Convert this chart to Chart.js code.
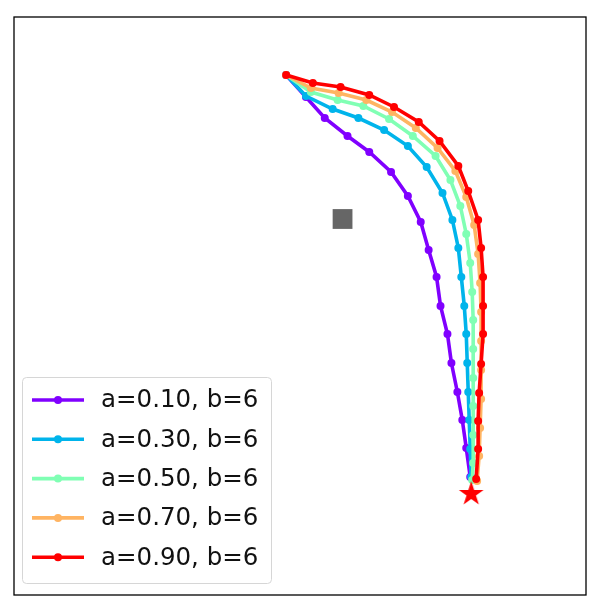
<!DOCTYPE html>
<html>
<head>
<meta charset="utf-8">
<script src="https://cdn.jsdelivr.net/npm/chart.js@4"></script>
<style>
  html, body { margin: 0; padding: 0; background: #fff; }
  #wrap { width: 600px; height: 612px; }
</style>
</head>
<body>
<div id="wrap"><canvas id="c" width="600" height="612"></canvas></div>
<script>
// Values (plot coordinates, y grows downward)
const labels = ["a=0.10, b=6", "a=0.30, b=6", "a=0.50, b=6", "a=0.70, b=6", "a=0.90, b=6"];
const colors = ["#8000ff", "#00b4eb", "#80ffb4", "#ffb462", "#ff0000"];

const pathA010 = [[285,75],[305,97],[324,118],[347,136],[369,152],[391,172],[408,196],[421,222],[429,250],[437,277],[441,306],[448,334],[452,363],[458,392],[463,420],[467,448],[471,477]];
const pathA030 = [[285,75],[305,96],[332,109],[358,118],[384,130],[408,146],[427,167],[443,193],[453,220],[459,248],[462,277],[465,306],[467,334],[468,363],[469,392],[470,420],[471,449],[472,477]];
const pathA050 = [[285,75],[310,92],[337,100],[363,106],[389,119],[413,136],[436,156],[451,180],[461,206],[467,234],[471,263],[473,292],[474,320],[474,349],[474,378],[474,406],[474,435],[474,463],[473,480]];
const pathA070 = [[285,75],[310,88],[338,93],[366,100],[392,112],[416,128],[438,148],[456,171],[467,197],[475,225],[479,254],[481,283],[482,312],[482,341],[482,370],[482,399],[481,428],[480,456],[478,481]];
const pathA090 = [[285,75],[312,83],[340,87],[369,95],[394,107],[419,122],[440,141],[459,166],[469,191],[479,220],[482,248],[484,277],[484,306],[484,334],[482,364],[480,393],[479,421],[479,449],[477,479]];
const obstacle = [[342,219]];
const goal = [[472,494]];

const paths = [pathA010, pathA030, pathA050, pathA070, pathA090];
const toPts = arr => arr.map(p => ({x: p[0], y: p[1]}));

// filled five-point star image for the goal marker
function makeStar(r, color) {
  const cv = document.createElement('canvas');
  const s = Math.ceil(r * 2 + 2);
  cv.width = s; cv.height = s;
  const g = cv.getContext('2d');
  const cx = s / 2, cy = s / 2, ri = r * 0.382;
  g.beginPath();
  for (let i = 0; i < 10; i++) {
    const rr = i % 2 === 0 ? r : ri;
    const ang = -Math.PI / 2 + i * Math.PI / 5;
    const px = cx + rr * Math.cos(ang), py = cy + rr * Math.sin(ang);
    if (i === 0) g.moveTo(px, py); else g.lineTo(px, py);
  }
  g.closePath();
  g.fillStyle = color;
  g.fill();
  return cv;
}
const starImg = makeStar(13, '#ff0000');

const datasets = paths.map((p, i) => ({
  label: labels[i],
  data: toPts(p),
  showLine: true,
  borderColor: colors[i],
  backgroundColor: colors[i],
  borderWidth: 3.6,
  pointRadius: 4,
  pointBorderWidth: 0,
  pointHoverRadius: 4,
  tension: 0,
  order: 10 - i
}));
datasets.push({
  label: 'obstacle', data: toPts(obstacle), showLine: false,
  pointStyle: 'rect', pointRadius: 14, borderWidth: 0, pointBorderWidth: 0,
  backgroundColor: '#666666', borderColor: '#666666', order: 0, legend: false
});
datasets.push({
  label: 'goal', data: toPts(goal), showLine: false,
  pointStyle: starImg, pointRadius: 13, backgroundColor: '#ff0000', borderColor: '#ff0000', order: -1, legend: false
});

const framePlugin = {
  id: 'frame',
  afterDraw(chart) {
    const {ctx, chartArea: a} = chart;
    ctx.save();
    ctx.strokeStyle = '#000';
    ctx.lineWidth = 1.3;
    ctx.strokeRect(a.left, a.top, a.right - a.left, a.bottom - a.top);
    ctx.restore();
  }
};

const legendPlugin = {
  id: 'innerLegend',
  afterDraw(chart) {
    const ctx = chart.ctx;
    const bx = 22.5, by = 377.5, bw = 249, bh = 206, r = 4;
    ctx.save();
    ctx.beginPath();
    ctx.moveTo(bx + r, by);
    ctx.arcTo(bx + bw, by, bx + bw, by + bh, r);
    ctx.arcTo(bx + bw, by + bh, bx, by + bh, r);
    ctx.arcTo(bx, by + bh, bx, by, r);
    ctx.arcTo(bx, by, bx + bw, by, r);
    ctx.closePath();
    ctx.fillStyle = 'rgba(255,255,255,0.8)';
    ctx.fill();
    ctx.strokeStyle = '#d6d6d6';
    ctx.lineWidth = 1;
    ctx.stroke();
    const ds = chart.data.datasets.filter(d => d.legend !== false);
    ds.forEach((d, i) => {
      const y = 400 + i * 39.3;
      ctx.strokeStyle = d.borderColor;
      ctx.lineWidth = 3.6;
      ctx.beginPath();
      ctx.moveTo(32, y); ctx.lineTo(84, y);
      ctx.stroke();
      ctx.fillStyle = d.borderColor;
      ctx.beginPath();
      ctx.arc(58, y, 4, 0, Math.PI * 2);
      ctx.fill();
      ctx.fillStyle = '#111';
      ctx.font = '24.5px "DejaVu Sans"';
      ctx.textBaseline = 'middle';
      ctx.textAlign = 'left';
      ctx.fillText(d.label, 101, y + 1);
    });
    ctx.restore();
  }
};

new Chart(document.getElementById('c'), {
  type: 'scatter',
  data: { datasets },
  options: {
    responsive: false,
    animation: false,
    layout: { padding: { left: 10, right: 12, top: 17, bottom: 17 } },
    plugins: { legend: { display: false }, tooltip: { enabled: false } },
    scales: {
      x: { type: 'linear', min: 10, max: 588, display: false },
      y: { type: 'linear', min: 17, max: 595, reverse: true, display: false }
    }
  },
  plugins: [framePlugin, legendPlugin]
});
</script>
</body>
</html>
